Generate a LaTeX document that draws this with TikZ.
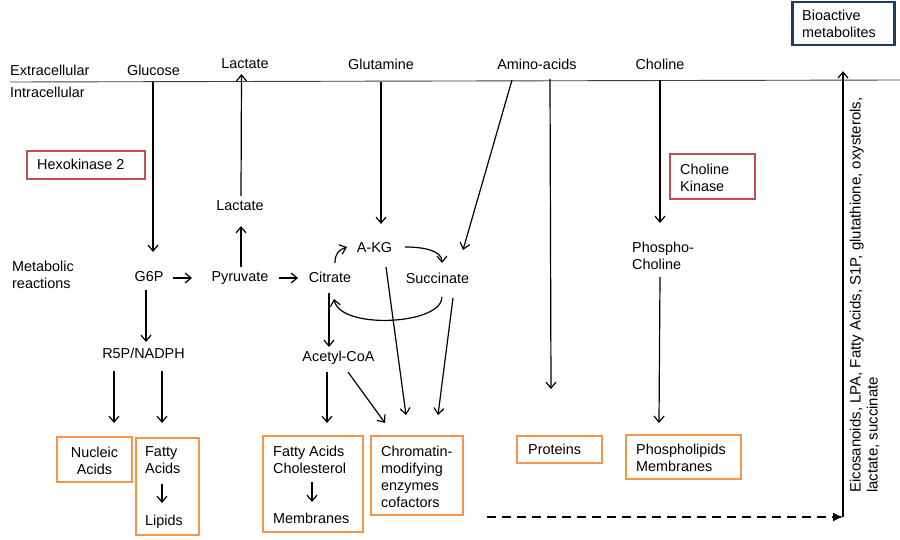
\documentclass[tikz,border=0pt]{standalone}
\usepackage{fontspec}
\setmainfont{Liberation Sans}
\usetikzlibrary{arrows.meta,calc}
\definecolor{orng}{HTML}{F79646}
\definecolor{redb}{HTML}{C0504D}
\definecolor{navyb}{HTML}{1F3B5E}
\begin{document}
\begin{tikzpicture}[x=1pt,y=-1pt,
  font=\fontsize{14.4}{17}\selectfont,
  lbl/.style={inner sep=0pt, text height=10.5pt, text depth=3pt},
  mlbl/.style={inner sep=0pt, align=left, anchor=north west},
  arr/.style={-{Straight Barb[length=6pt,width=10pt]}, line width=1.2pt},
  obox/.style={draw=orng, line width=2.2pt, inner sep=0pt},
  rbox/.style={draw=redb, line width=2.4pt, inner sep=0pt},
  nbox/.style={draw=navyb, line width=2.4pt, inner sep=0pt},
]
\useasboundingbox[fill=white] (0,0) rectangle (900,540);

% membrane
\draw[black!75, line width=0.9pt] (10,82) -- (900,80);
\node[lbl, anchor=west] (extra) at (10,72) {Extracellular};
\node[lbl, anchor=west] (intra) at (10,94) {Intracellular};

% top metabolites
\node[lbl] (glucose) at (153.5,72) {Glucose};
\node[lbl] (lactOut) at (245,65) {Lactate};
\node[lbl] (glutamine) at (381,66) {Glutamine};
\node[lbl] (amino) at (537,66) {Amino-acids};
\node[lbl] (choline) at (660,66) {Choline};

% enzyme boxes
\node[rbox, minimum width=118pt, minimum height=28pt] (hexoBox) at (86,165) {};
\node[lbl, anchor=west] (hexo) at (37,166) {Hexokinase 2};
\node[rbox, minimum width=85pt, minimum height=45pt] (ckBox) at (712.5,176.5) {};
\node[mlbl] (ck) at (680,163.7) {Choline\\Kinase};
\node[nbox, minimum width=102pt, minimum height=43pt] (bioBox) at (843.5,23.5) {};
\node[mlbl] (bio) at (802,9.7) {Bioactive\\metabolites};

% metabolic reactions
\node[mlbl] (metab) at (12,260.7) {Metabolic\\reactions};
\node[lbl] (lactIn) at (240,207) {Lactate};
\node[lbl] (g6p) at (149,278) {G6P};
\node[lbl] (pyr) at (240,278) {Pyruvate};
\node[lbl] (citrate) at (330,279) {Citrate};
\node[lbl] (akg) at (374.5,249) {A-KG};
\node[lbl] (succ) at (437.5,280) {Succinate};
\node[lbl] (r5p) at (143.5,355) {R5P/NADPH};
\node[lbl] (acetyl) at (338.5,358) {Acetyl-CoA};
\node[mlbl] (phosc) at (632,241.7) {Phospho-\\Choline};

% output boxes
\node[obox, minimum width=75pt, minimum height=45pt] (nucBox) at (94.5,459.5) {};
\node[inner sep=0pt, align=center, anchor=north] (nuc) at (94.5,446.7) {Nucleic\\Acids};
\node[obox, minimum width=63pt, minimum height=97pt] (fatBox) at (167.5,486.5) {};
\node[mlbl] (fatty) at (145,446.7) {Fatty\\Acids};
\node[lbl, anchor=west] (lipids) at (145,522) {Lipids};
\node[obox, minimum width=100pt, minimum height=96pt] (fcBox) at (313,484) {};
\node[mlbl] (fc) at (273,445.7) {Fatty Acids\\Cholesterol};
\node[lbl, anchor=west] (membr) at (273,520) {Membranes};
\node[obox, minimum width=92pt, minimum height=79pt] (chromBox) at (417,475.5) {};
\node[mlbl] (chrom) at (381,445.7) {Chromatin-\\modifying\\enzymes\\cofactors};
\node[obox, minimum width=85pt, minimum height=27pt] (protBox) at (559.5,449.5) {};
\node[lbl, anchor=west] (prot) at (528,451) {Proteins};
\node[obox, minimum width=115pt, minimum height=44pt] (phosBox) at (683.5,457) {};
\node[mlbl] (phos) at (636,443.7) {Phospholipids\\Membranes};

% secreted metabolites
\node[rotate=90, anchor=north west, align=left, inner sep=0pt,
      font=\fontsize{15}{17}\selectfont] (eico) at (849.5,493)
  {Eicosanoids, LPA, Fatty Acids, S1P, glutathione, oxysterols,\\lactate, succinate};

% connectors
\draw[arr] ($(glucose)+(-0.5,10)$) -- ($(g6p)+(4,-26)$);
\draw[arr] ($(lactIn)+(1,-11)$) -- ($(lactOut)+(-3.5,9)$);
\draw[arr] ($(pyr)+(1,-11)$) -- ($(lactIn)+(1,19)$);
\draw[arr] ($(g6p)+(24,0)$) -- ($(pyr)+(-48,0)$);
\draw[arr] ($(pyr)+(39,0)$) -- ($(citrate)+(-32,-1)$);
\draw[arr] ($(glutamine)+(0,16)$) -- ($(akg)+(6.5,-25)$);
\draw[arr] ($(amino)+(-25,14)$) -- ($(succ)+(25.5,-30)$);
\draw[arr] ($(amino)+(13,13)$) -- ($(protBox)+(-8.5,-60.5)$);
\draw[arr] ($(choline)+(0,14)$) -- ($(phosc.north west)+(28,-18.7)$);
\draw[arr] ($(phosc.north west)+(28,35.3)$) -- ($(phosBox)+(-24.5,-34)$);
\draw[arr] ($(citrate)+(5,-16)$) .. controls +(0,-10) and +(-8,3) .. ($(akg)+(-27.5,-2)$);
\draw[arr] ($(akg)+(30.5,-2)$) .. controls +(20,0) and +(0,-12) .. ($(succ)+(4.5,-17)$);
\draw[arr] ($(succ)+(4.5,17)$) .. controls +(0,28) and +(6,31) .. ($(citrate)+(4,20)$);
\draw[arr] ($(akg)+(11.5,18)$) -- ($(chromBox)+(-11,-60.5)$);
\draw[arr] ($(succ)+(15.5,18)$) -- ($(chromBox)+(21,-60.5)$);
\draw[arr] ($(citrate)+(-1,14)$) -- ($(acetyl)+(-9.5,-11)$);
\draw[arr] ($(acetyl)+(-11.5,14)$) -- ($(fcBox)+(14,-61)$);
\draw[arr] ($(acetyl)+(9.5,14)$) -- ($(chromBox)+(-32,-52.5)$);
\draw[arr] ($(g6p)+(-3,12)$) -- ($(r5p)+(2.5,-13)$);
\draw[arr] ($(r5p)+(-29.5,16)$) -- ($(nucBox)+(19.5,-36.5)$);
\draw[arr] ($(r5p)+(18.5,16)$) -- ($(fatBox)+(-5.5,-63.5)$);
\draw[arr] ($(fatty.north west)+(17,37.3)$) -- ($(lipids.west)+(17,-19)$);
\draw[arr] ($(fc.north west)+(39,36.3)$) -- ($(membr.west)+(39,-18)$);

\coordinate (dashStart) at (487,517);
\coordinate (corner) at (843,517);
\draw[line width=1.4pt, dash pattern=on 9pt off 6pt, -{Latex[length=10pt,width=9pt]}] (dashStart) -- (corner);
\draw[arr] (corner) -- ($(bioBox.south)+(-0.5,25)$);
\end{tikzpicture}
\end{document}
